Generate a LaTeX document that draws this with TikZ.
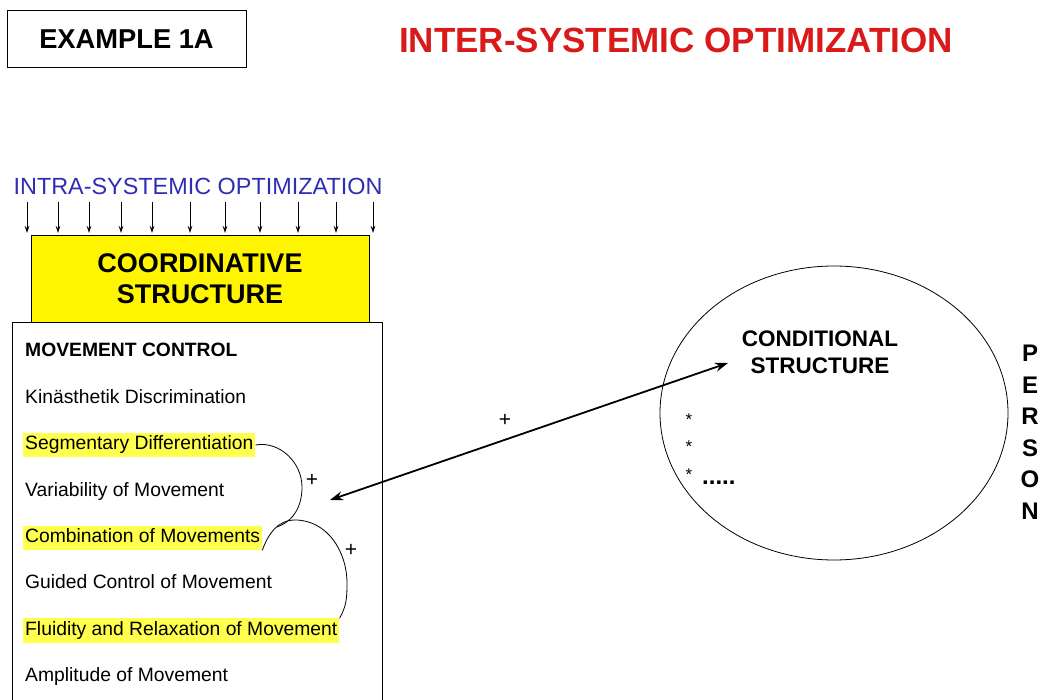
\documentclass[tikz,border=0pt]{standalone}
\usepackage{fontspec}
\setmainfont{Liberation Sans}
\usepackage{xcolor}
\usetikzlibrary{shapes.geometric,arrows.meta}
\definecolor{hred}{HTML}{D91A1A}
\definecolor{hblue}{HTML}{2E2EB4}
\definecolor{boxyellow}{HTML}{FFF500}
\definecolor{markyellow}{HTML}{FFFF4D}
\tikzstyle{itemtext} = [
    anchor=west,
    font=\fontsize{19.3}{22}\selectfont,
    text height=14pt,
    text depth=4.5pt,
    inner xsep=2pt,
    inner ysep=2.8pt
    ]
\tikzstyle{hlitem} = [
    itemtext,
    fill=markyellow
    ]
\tikzstyle{headbox} = [
    draw=black,
    line width=1pt,
    rectangle
    ]
\tikzstyle{downarrow} = [
    -{Stealth[length=7pt,width=4.5pt]},
    line width=0.8pt
    ]
\tikzstyle{plussign} = [
    font=\fontsize{21}{24}\selectfont
    ]
\begin{document}
\begin{tikzpicture}[x=1pt,y=-1pt]
\useasboundingbox (0,0) rectangle (1044,700);
% titles
\node[headbox, minimum width=239pt, minimum height=57pt,
    font=\bfseries\fontsize{27.3}{30}\selectfont] (example) at (126.5,39.5) {EXAMPLE 1A};
\node[text=hred, font=\bfseries\fontsize{35}{38}\selectfont] (inter) at (676,40) {INTER-SYSTEMIC OPTIMIZATION};
% coordinative structure
\node[text=hblue, font=\fontsize{23.4}{26}\selectfont] (intra) at (198,186) {INTRA-SYSTEMIC OPTIMIZATION};
\node[headbox, fill=boxyellow, minimum width=338pt, minimum height=87pt,
    align=center, font=\bfseries\fontsize{27}{31}\selectfont] (coord) at (200,279) {COORDINATIVE\\STRUCTURE};
\foreach \x in {27,58,89,121,152,190,225,260,298,336,373}
    \draw[downarrow] (\x,202) -- (\x,233);
\draw[line width=1pt] (12,720) -- (12,323) -- (382,323) -- (382,720);
% movement control list
\node[itemtext, font=\bfseries\fontsize{19.3}{22}\selectfont] (mc) at (23,352) {MOVEMENT CONTROL};
\node[itemtext] (kin) at (23,398.5) {Kinästhetik Discrimination};
\node[hlitem] (seg) at (23,445) {Segmentary Differentiation};
\node[itemtext] (var) at (23,491.5) {Variability of Movement};
\node[hlitem] (comb) at (23,538) {Combination of Movements};
\node[itemtext] (guid) at (23,584) {Guided Control of Movement};
\node[hlitem] (flu) at (23,630.5) {Fluidity and Relaxation of Movement};
\node[itemtext] (amp) at (23,677) {Amplitude of Movement};
% combination arcs
\draw[line width=0.8pt] (seg.east) to[out=10,in=90] (302,487) to[out=-90,in=20] (277,527);
\draw[line width=0.8pt] (comb.south east) to[out=70,in=180] (295,520) to[out=0,in=90] (347,583) to[out=-90,in=60] (flu.north east);
\node[plussign] (plus1) at (312,480) {+};
\node[plussign] (plus2) at (351,550) {+};
% conditional structure
\node[draw, ellipse, line width=0.8pt, minimum width=348pt, minimum height=294pt] (cond) at (834,413) {};
\node[align=center, font=\bfseries\fontsize{22.5}{27}\selectfont] (condtxt) at (820,352) {CONDITIONAL\\STRUCTURE};
\node[font=\fontsize{17}{18}\selectfont] (st1) at (689,420) {*};
\node[font=\fontsize{17}{18}\selectfont] (st2) at (689,447) {*};
\node[font=\fontsize{17}{18}\selectfont] (st3) at (689,475) {*};
\node[anchor=west, font=\bfseries\fontsize{24}{26}\selectfont, inner sep=0pt] (dots) at (702,483) {.....};
\coordinate (lhs) at (330,500);
\coordinate (rhs) at (728,363);
\draw[{Stealth[length=13pt,width=9pt]}-{Stealth[length=13pt,width=9pt]}, line width=1.8pt] (lhs) -- (rhs);
\node[plussign] (plus3) at (505,420) {+};
% person
\node[align=center, font=\bfseries\fontsize{24}{31.5}\selectfont] (person) at (1030,432) {P\\E\\R\\S\\O\\N};
\end{tikzpicture}
\end{document}
